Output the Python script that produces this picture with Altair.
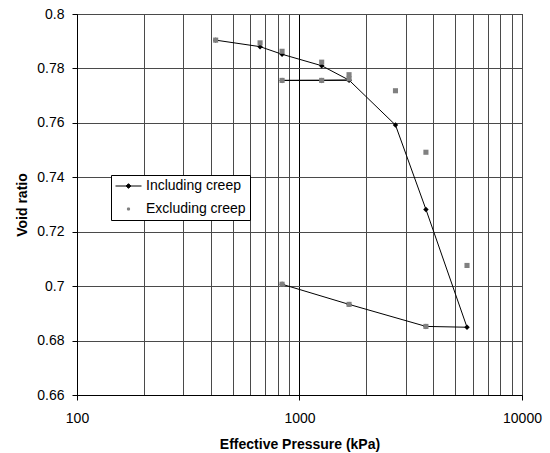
import altair as alt
import pandas as pd

# ---- data ----
series_names = ["Including creep", "Excluding creep"]

pressure_incl = [420, 665, 835, 1258, 1670, 1258, 835, 1670, 2700, 3700, 5660, 3700, 1670, 835]
void_incl = [0.7904, 0.7880, 0.7852, 0.7810, 0.7757, 0.7756, 0.7756, 0.7757, 0.7592, 0.7282, 0.6849, 0.6852, 0.6933, 0.7007]

pressure_excl = [420, 665, 835, 1258, 1670, 1258, 835, 1670, 2700, 3700, 5660, 3700, 1670, 835]
void_excl = [0.7904, 0.7894, 0.7863, 0.7823, 0.7777, 0.7756, 0.7756, 0.7762, 0.7718, 0.7492, 0.7076, 0.6852, 0.6933, 0.7007]

x_ticks = [100, 200, 300, 400, 500, 600, 700, 800, 900,
           1000, 2000, 3000, 4000, 5000, 6000, 7000, 8000, 9000, 10000]
y_ticks = [0.66, 0.68, 0.70, 0.72, 0.74, 0.76, 0.78, 0.80]

series_colors = ["#000000", "#808080"]
legend_shapes = ["M-1,0H1M0,-0.18L0.18,0L0,0.18L-0.18,0Z",
                 "M-0.08,-0.08H0.08V0.08H-0.08Z"]

rows = []
for i, (p, e) in enumerate(zip(pressure_incl, void_incl)):
    rows.append({"series": series_names[0], "p": p, "e": e, "seq": i})
for i, (p, e) in enumerate(zip(pressure_excl, void_excl)):
    rows.append({"series": series_names[1], "p": p, "e": e, "seq": 100 + i})
df = pd.DataFrame(rows)

FONT = "Liberation Sans"
GRID = "#4a4a4a"

x_enc = alt.X(
    "p:Q",
    scale=alt.Scale(type="log", domain=[100, 10000], nice=False),
    axis=alt.Axis(
        title="Effective Pressure (kPa)",
        values=x_ticks,
        format="d",
        labelFlush=False,
        labelExpr="indexof([100,1000,10000], datum.value) >= 0 ? datum.label : ''",
        gridColor=alt.condition("datum.value == 1000", alt.value("#000000"), alt.value(GRID)),
        tickColor=alt.condition("indexof([100,1000,10000], datum.value) >= 0", alt.value("#000000"), alt.value("transparent")),
        labelPadding=11,
        titlePadding=12,
    ),
)
y_enc = alt.Y(
    "e:Q",
    scale=alt.Scale(domain=[0.66, 0.80], nice=False, zero=False),
    axis=alt.Axis(
        title="Void ratio",
        values=y_ticks,
        format="~g",
        labelFlush=False,
        labelPadding=8,
        titlePadding=7,
        gridColor=GRID,
    ),
)

legend = alt.Legend(
    title=None,
    orient="none",
    legendX=34,
    legendY=161,
    symbolSize=676,
    symbolStrokeWidth=1,
    symbolOpacity=1,
    clipHeight=14,
    rowPadding=9,
    padding=4,
    labelOffset=4,
    labelFont=FONT,
    labelFontSize=14,
    labelColor="#000000",
    fillColor="#ffffff",
    strokeColor="#000000",
)

base = alt.Chart(df)

line = base.transform_filter(
    alt.datum.series == series_names[0]
).mark_line(color="#000000", strokeWidth=1).encode(
    x=x_enc, y=y_enc, order="seq:Q"
)

diamonds = base.transform_filter(
    alt.datum.series == series_names[0]
).mark_point(filled=True, shape="diamond", size=30, color="#000000", opacity=1).encode(
    x=x_enc, y=y_enc
)

squares = base.transform_filter(
    alt.datum.series == series_names[1]
).mark_point(filled=True, shape="square", size=26, color="#808080", opacity=1).encode(
    x=x_enc, y=y_enc
)

# legend-only layer (no data rows drawn)
legend_layer = base.transform_filter("datum.seq < 0").mark_point(opacity=1).encode(
    x=x_enc,
    y=y_enc,
    fill=alt.Fill("series:N", scale=alt.Scale(domain=series_names, range=series_colors), legend=legend),
    stroke=alt.Stroke("series:N", scale=alt.Scale(domain=series_names, range=series_colors), legend=legend),
    shape=alt.Shape("series:N", scale=alt.Scale(domain=series_names, range=legend_shapes), legend=legend),
)

chart = alt.layer(line, diamonds, squares, legend_layer).properties(
    width=445,
    height=381,
    autosize=alt.AutoSizeParams(type="none"),
    padding={"left": 77, "top": 14, "right": 28, "bottom": 58},
).configure_view(
    stroke="#000000", strokeWidth=1
).configure_axis(
    labelFont=FONT, labelFontSize=14, labelColor="#000000",
    titleFont=FONT, titleFontSize=14, titleFontWeight="bold", titleColor="#000000",
    domainColor="#000000", domainWidth=1,
    tickColor="#000000", tickSize=5, tickWidth=1,
    gridWidth=1, gridOpacity=1,
)

chart.save("out.html", embed_options={"renderer": "svg", "actions": False})
